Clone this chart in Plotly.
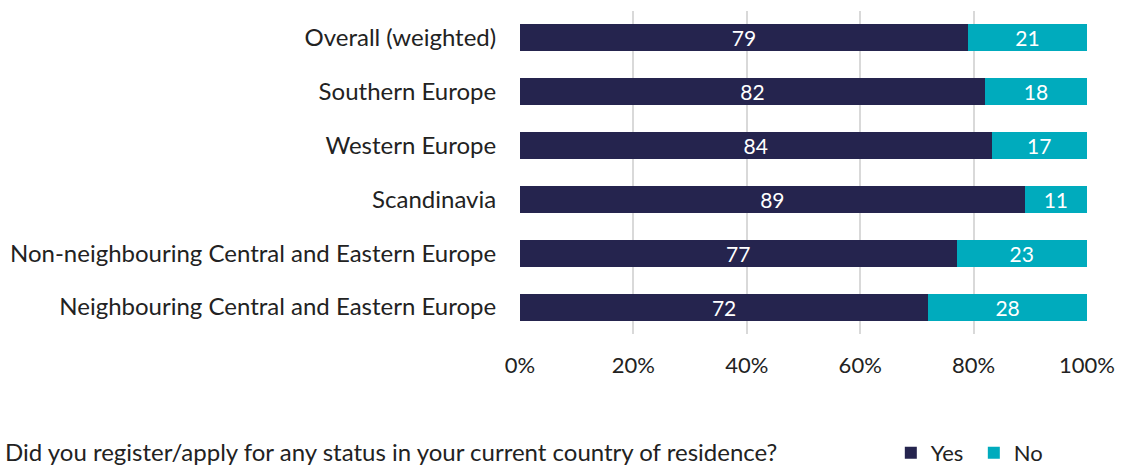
import plotly.graph_objects as go

categories = ["Overall (weighted)", "Southern Europe", "Western Europe", "Scandinavia",
              "Non-neighbouring Central and Eastern Europe", "Neighbouring Central and Eastern Europe"]
yes_vals = [79, 82, 84, 89, 77, 72]
no_vals = [21, 18, 17, 11, 23, 28]
tick_vals = [0, 20, 40, 60, 80, 100]
tick_text = ["0%", "20%", "40%", "60%", "80%", "100%"]
question = "Did you register/apply for any status in your current country of residence?"

FONT = "Lato"
TXT = "#222222"
fig = go.Figure()
fig.add_trace(go.Bar(y=categories, x=yes_vals, name="Yes", orientation="h",
                     marker=dict(color="#25244E", line=dict(width=0)),
                     text=yes_vals, textposition="inside", insidetextanchor="middle",
                     textangle=0,
                     textfont=dict(color="white", size=21, family=FONT)))
fig.add_trace(go.Bar(y=categories, x=no_vals, name="No", orientation="h",
                     marker=dict(color="#00ABBD", line=dict(width=0)),
                     text=no_vals, textposition="inside", insidetextanchor="middle",
                     textangle=0,
                     textfont=dict(color="white", size=21, family=FONT)))

fig.update_layout(
    barmode="stack", barnorm="percent", bargap=0.5,
    width=1121, height=465,
    margin=dict(l=520, r=34, t=11, b=131, autoexpand=False),
    paper_bgcolor="white", plot_bgcolor="white",
    font=dict(family=FONT, size=22, color=TXT),
    xaxis=dict(range=[0, 100], tickvals=tick_vals, ticktext=tick_text,
               showgrid=True, gridcolor="#D9D9D9", gridwidth=1.5,
               zeroline=False, showline=False, ticks="outside", ticklen=12,
               tickcolor="rgba(0,0,0,0)", automargin=False,
               tickfont=dict(size=22, color=TXT)),
    yaxis=dict(autorange="reversed", showgrid=False, ticks="outside", ticklen=18,
               tickcolor="rgba(0,0,0,0)", automargin=False,
               tickfont=dict(size=24, color=TXT)),
    legend=dict(orientation="h", x=0.654, y=-0.368, xanchor="left", yanchor="middle",
                font=dict(size=22, color=TXT), traceorder="normal",
                itemwidth=30, entrywidth=38),
    showlegend=True,
    uniformtext=dict(minsize=21, mode="show"),
)
fig.add_annotation(text=question, xref="paper", yref="paper", x=-0.912, y=-0.365,
                   xanchor="left", yanchor="middle", showarrow=False,
                   font=dict(size=24, color=TXT, family=FONT))

fig.write_html("out.html", config={"displayModeBar": False},
               post_script="document.body.style.margin='0';")
